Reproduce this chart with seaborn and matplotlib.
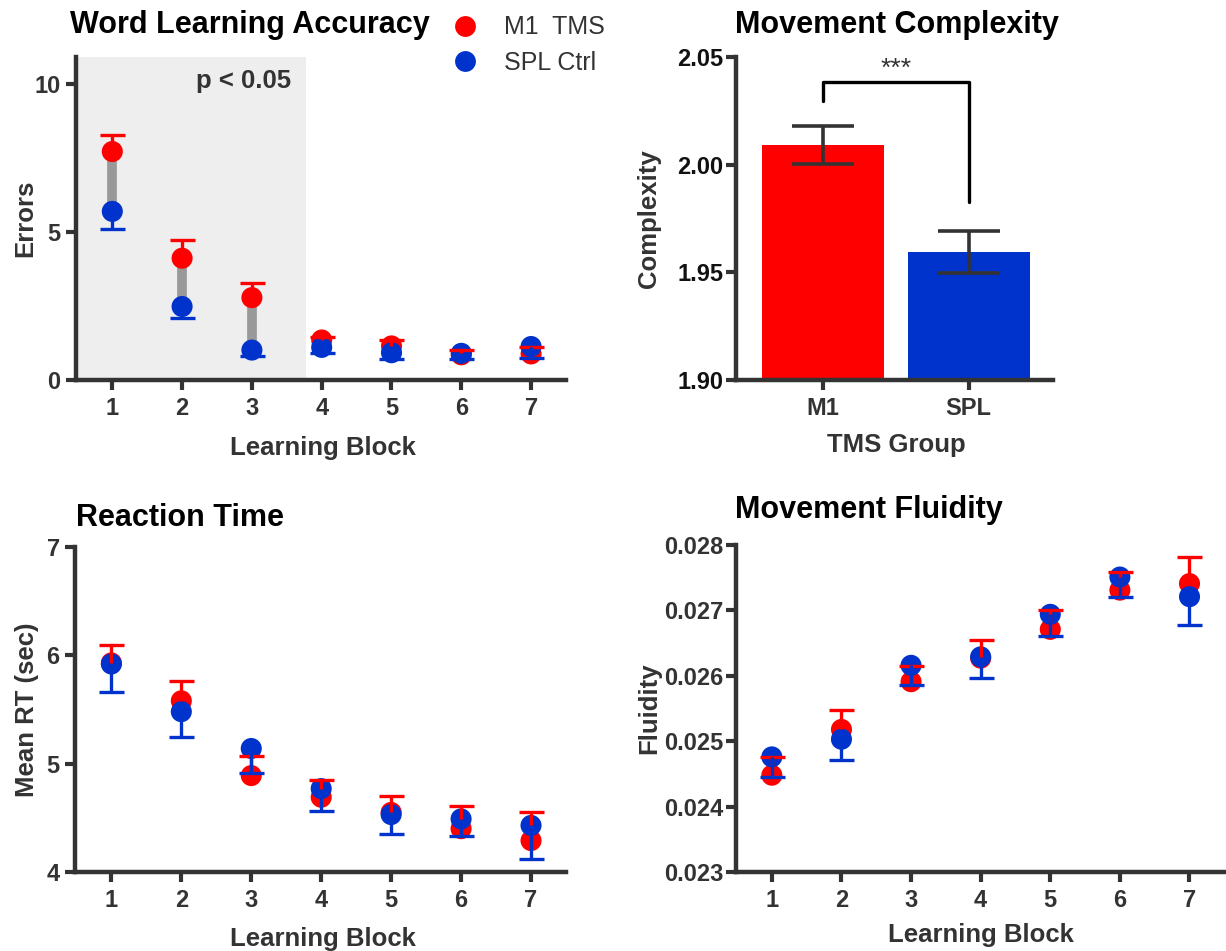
# -*- coding: utf-8 -*-
"""
Figura de 4 paneles: aprendizaje de palabras, complejidad, tiempo de
reacción y fluidez del movimiento (grupos M1 TMS vs. SPL control).
"""

import numpy as np
import pandas as pd
import matplotlib
matplotlib.use("Agg")
import matplotlib.pyplot as plt
import seaborn as sns
from matplotlib.lines import Line2D

sns.set_style("ticks")
plt.rcParams["font.family"] = ["Liberation Sans", "DejaVu Sans"]
plt.rcParams["font.weight"] = "bold"
plt.rcParams["axes.labelweight"] = "bold"

ROJO = "#ff0000"
AZUL = "#0033cc"
GRIS = "#333333"

# %% Datos ---------------------------------------------------------------------
bloques = [1, 2, 3, 4, 5, 6, 7]
grupos = ["M1  TMS", "SPL Ctrl"]

errores_m1 = [7.71, 4.11, 2.78, 1.35, 1.15, 0.85, 0.88]
errores_m1_sem = [0.55, 0.62, 0.50, 0.10, 0.20, 0.16, 0.22]
errores_spl = [5.69, 2.48, 1.01, 1.10, 0.92, 0.90, 1.13]
errores_spl_sem = [0.60, 0.40, 0.20, 0.20, 0.22, 0.20, 0.40]

rt_m1 = [5.93, 5.58, 4.89, 4.69, 4.55, 4.40, 4.29]
rt_m1_sem = [0.17, 0.18, 0.18, 0.16, 0.15, 0.21, 0.26]
rt_spl = [5.92, 5.48, 5.14, 4.77, 4.53, 4.49, 4.43]
rt_spl_sem = [0.26, 0.23, 0.23, 0.21, 0.18, 0.16, 0.31]

fluidez_m1 = [0.02448, 0.02518, 0.02591, 0.02627, 0.02671, 0.02731, 0.02741]
fluidez_m1_sem = [0.00028, 0.00030, 0.00024, 0.00028, 0.00030, 0.00027, 0.00041]
fluidez_spl = [0.02476, 0.02503, 0.02616, 0.02629, 0.02694, 0.02751, 0.02721]
fluidez_spl_sem = [0.00031, 0.00031, 0.00030, 0.00032, 0.00033, 0.00031, 0.00043]

grupos_tms = ["M1", "SPL"]
complejidad = [2.0092, 1.9595]
complejidad_sem = [0.0088, 0.0099]

# bloques con diferencia significativa (zona sombreada)
bloques_signif = [1, 2, 3]


# %% Funciones -------------------------------------------------------------------

def estilo(ax, pad_y=2):
    sns.despine(ax=ax)
    for s in ["left", "bottom"]:
        ax.spines[s].set_linewidth(3.2)
        ax.spines[s].set_color(GRIS)
    ax.tick_params(width=3, length=7, color=GRIS, labelsize=17,
                   labelcolor=GRIS)
    ax.tick_params(axis="x", pad=5)
    ax.tick_params(axis="y", pad=pad_y)


def panel_puntos(ax, m1, m1_sem, spl, spl_sem, pad_y=2):
    df = pd.DataFrame({
        "Bloque": bloques * 2,
        "Valor": m1 + spl,
        "Grupo": [grupos[0]] * len(bloques) + [grupos[1]] * len(bloques),
    })
    sns.scatterplot(data=df, x="Bloque", y="Valor", hue="Grupo",
                    palette=[ROJO, AZUL], s=230, linewidth=0,
                    legend=False, ax=ax, zorder=2)
    # barras de error de un solo lado: M1 hacia arriba, SPL hacia abajo
    x = np.array(bloques)
    for vals, sem, color, signo in [(m1, m1_sem, ROJO, 1),
                                    (spl, spl_sem, AZUL, -1)]:
        vals = np.array(vals)
        extremo = vals + signo * np.array(sem)
        ax.vlines(x, vals, extremo, color=color, lw=2.4, zorder=3)
        ax.plot(x, extremo, ls="none", marker="_", ms=18, mew=2.4,
                color=color, zorder=3)
    ax.set_xlim(0.48, 7.5)
    ax.set_xticks(bloques)
    ax.set_xlabel("Learning Block", fontsize=18.5, color=GRIS)
    ax.set_ylabel("")
    estilo(ax, pad_y)


W, H = 1226, 951


def caja(izq, der, arriba, abajo):
    return [izq / W, 1 - abajo / H, (der - izq) / W, (abajo - arriba) / H]


fig = plt.figure(figsize=(W / 100, H / 100), dpi=100)

# %% Panel 1: errores ---------------------------------------------------------
ax1 = fig.add_axes(caja(76, 566, 57, 380))
ax1.axvspan(0.48, 3.77, color="#eeeeee", zorder=0, lw=0)
ax1.vlines(bloques_signif,
           [errores_spl[b - 1] for b in bloques_signif],
           [errores_m1[b - 1] for b in bloques_signif],
           color="#999999", lw=7, zorder=1)
panel_puntos(ax1, errores_m1, errores_m1_sem, errores_spl, errores_spl_sem,
             pad_y=4)
ax1.set_ylim(0, 10.9)
ax1.set_yticks([0, 5, 10])
ax1.set_ylabel("Errors", fontsize=18.5, color=GRIS)
ax1.yaxis.set_label_coords(-0.08, 0.5)
ax1.xaxis.set_label_coords(0.503, -0.172)
ax1.text(0.44, 0.904, "p < 0.05", transform=ax1.transAxes, ha="right",
         va="baseline", fontsize=18.5, color=GRIS)
fig.text(70 / W, 1 - 33 / H, "Word Learning Accuracy", fontsize=22,
         color="black", va="baseline")

handles = [Line2D([], [], ls="none", marker="o", ms=15, mew=0, color=c)
           for c in (ROJO, AZUL)]
fig.legend(handles, grupos, loc="center left",
           bbox_to_anchor=(452 / W, 1 - 45 / H), frameon=False,
           prop={"size": 18, "weight": "normal"}, handlelength=1.0,
           handletextpad=1.1, labelspacing=0.45, borderpad=0,
           borderaxespad=0, labelcolor=GRIS)

# %% Panel 2: complejidad -----------------------------------------------------
ax2 = fig.add_axes(caja(736, 1053, 57, 380))
sns.barplot(x=grupos_tms, y=complejidad, hue=grupos_tms,
            palette=[ROJO, AZUL], width=0.84, errorbar=None, legend=False,
            saturation=1, ax=ax2, linewidth=0)
ax2.errorbar([0, 1], complejidad, yerr=complejidad_sem, fmt="none",
             ecolor=GRIS, elinewidth=2.6, capsize=22, capthick=2.6, zorder=3)
# corchete de significación
ax2.plot([0, 0, 1, 1], [2.0297, 2.0382, 2.0382, 1.9825], color="black",
         lw=2.4, zorder=3)
ax2.text(0.5, 2.0388, "***", ha="center", va="bottom", fontsize=19,
         fontweight="normal", color=GRIS)
ax2.set_ylim(1.90, 2.05)
ax2.set_yticks([1.90, 1.95, 2.00, 2.05])
ax2.set_yticklabels(["1.90", "1.95", "2.00", "2.05"])
ax2.set_xlim(-0.6, 1.58)
ax2.set_xlabel("TMS Group", fontsize=18.5, color=GRIS)
ax2.set_ylabel("Complexity", fontsize=18.5, color=GRIS)
estilo(ax2)
ax2.tick_params(axis="y", labelcolor="#111111")
ax2.yaxis.set_label_coords(-0.236, 0.5)
ax2.xaxis.set_label_coords(0.506, -0.163)
fig.text(735 / W, 1 - 33 / H, "Movement Complexity", fontsize=22,
         color="black", va="baseline")

# %% Panel 3: tiempo de reacción ------------------------------------------------
ax3 = fig.add_axes(caja(75, 566, 547, 872))
panel_puntos(ax3, rt_m1, rt_m1_sem, rt_spl, rt_spl_sem, pad_y=4)
ax3.set_ylim(4, 7)
ax3.set_yticks([4, 5, 6, 7])
ax3.set_ylabel("Mean RT (sec)", fontsize=18.5, color=GRIS)
ax3.yaxis.set_label_coords(-0.074, 0.5)
ax3.xaxis.set_label_coords(0.505, -0.168)
fig.text(75.5 / W, 1 - 526 / H, "Reaction Time", fontsize=22,
         color="black", va="baseline")

# %% Panel 4: fluidez ---------------------------------------------------------
ax4 = fig.add_axes(caja(736, 1225, 545, 872))
panel_puntos(ax4, fluidez_m1, fluidez_m1_sem, fluidez_spl, fluidez_spl_sem)
ax4.set_xlim(0.485, 7.51)
ax4.set_ylim(0.023, 0.028)
ax4.set_yticks([0.023, 0.024, 0.025, 0.026, 0.027, 0.028])
ax4.set_yticklabels(["0.023", "0.024", "0.025", "0.026", "0.027", "0.028"])
ax4.set_ylabel("Fluidity", fontsize=18.5, color=GRIS)
ax4.yaxis.set_label_coords(-0.153, 0.5)
ax4.xaxis.set_label_coords(0.501, -0.155)
fig.text(735 / W, 1 - 518 / H, "Movement Fluidity", fontsize=22,
         color="black", va="baseline")

fig.savefig("out.png", dpi=100)
